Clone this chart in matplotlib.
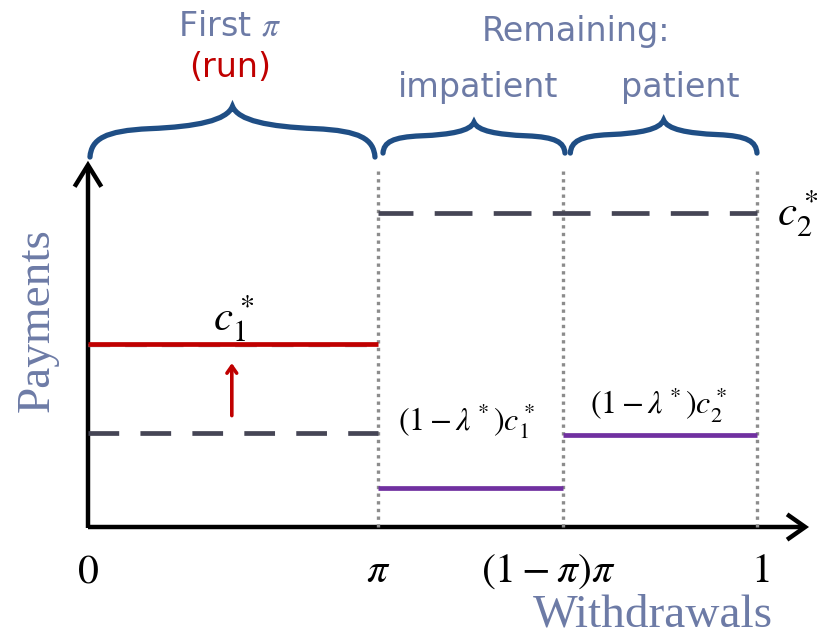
import matplotlib
matplotlib.use("Agg")
import matplotlib.pyplot as plt
from matplotlib.path import Path
from matplotlib.patches import PathPatch

# ---- data (x: share of withdrawals, y: payment level) ----
x_breaks = [0.0, 0.4335, 0.710, 1.0]          # 0, pi, (1-pi)pi, 1
x_tick_labels = ["$0$", r"$\pi$", r"$(1-\pi)\pi$", "$1$"]
c1_star = 0.5055                              # raised payment to first pi
c1_old = 0.26                                 # old payment (dashed)
c2_star = 0.867                               # promised patient payment
c1_cut = 0.108                                # (1-lambda*) c1*
c2_cut = 0.254                                # (1-lambda*) c2*

SLATE = "#6d7ba6"
RED = "#c00000"
PURPLE = "#7030a0"
DASH = "#454555"
BRACE = "#1f4e85"

fig = plt.figure(figsize=(8.21, 6.36), dpi=100)
ax = fig.add_axes([0, 0, 1, 1])
ax.set_xlim(-0.1315, 1.0957)
ax.set_ylim(-0.3011, 1.4558)
ax.axis("off")

# axes with arrows
ax.plot([0, 1.068], [0, 0], color="black", lw=3.2, solid_capstyle="butt")
ax.plot([0, 0], [-0.004, 0.995], color="black", lw=3.2, solid_capstyle="butt")
ax.plot([1.045, 1.072, 1.045], [0.035, 0, -0.035], color="black", lw=3.2,
        solid_joinstyle="miter", solid_capstyle="butt")
ax.plot([-0.02, 0, 0.02], [0.94, 1.0, 0.94], color="black", lw=3.2,
        solid_joinstyle="miter", solid_capstyle="butt")

# dotted separators
for xb in x_breaks[1:]:
    ax.plot([xb, xb], [0, 0.99], color="#8c8c8c", lw=2.4, ls=(0, (1, 1.3)))

# payment levels
ax.plot([0, x_breaks[1]], [c1_star - 0.004, c1_star - 0.004], color="#a0a0aa", lw=2.4,
        ls=(0, (6.5, 4.5)))
ax.plot([0, x_breaks[1]], [c1_star, c1_star], color=RED, lw=3.4, solid_capstyle="butt")
ax.plot([0, x_breaks[1]], [c1_old, c1_old], color=DASH, lw=3.4, ls=(0, (6.5, 4.5)))
ax.plot([x_breaks[1], x_breaks[3]], [c2_star, c2_star], color=DASH, lw=3.4,
        ls=(0.6, (8, 4.5)))
ax.plot([x_breaks[1], x_breaks[2]], [c1_cut, c1_cut], color=PURPLE, lw=3.4,
        solid_capstyle="butt")
ax.plot([x_breaks[2], x_breaks[3]], [c2_cut, c2_cut], color=PURPLE, lw=3.4,
        solid_capstyle="butt")

# red arrow: c1 raised
ax.annotate("", xy=(0.215, c1_star - 0.045), xytext=(0.215, c1_old + 0.04),
            arrowprops=dict(arrowstyle="->,head_length=0.5,head_width=0.35",
                            color=RED, lw=2.6))


def brace(x0, x1, y0, yt):
    xm = (x0 + x1) / 2.0
    half = xm - x0
    h = yt - y0
    left = [(x0 + 0.01 * half, y0 + 0.35 * h), (x0 + 0.1 * half, y0 + 0.52 * h),
            (x0 + 0.42 * half, y0 + 0.56 * h),
            (x0 + 0.75 * half, y0 + 0.6 * h), (x0 + 0.96 * half, y0 + 0.72 * h),
            (xm, yt)]
    right = [(2 * xm - px, py) for px, py in left[:-1]][::-1] + [(x1, y0)]
    verts = [(x0, y0)] + left + right
    codes = [Path.MOVETO] + [Path.CURVE4] * 12
    ax.add_patch(PathPatch(Path(verts, codes), fill=False, edgecolor=BRACE,
                           lw=3.8, capstyle="round", joinstyle="miter"))


brace(0.003, 0.429, 1.022, 1.162)
brace(0.441, 0.713, 1.033, 1.118)
brace(0.721, 1.0, 1.033, 1.124)

# top labels
ax.text(0.212, 1.385, r"First $\pi$", color=SLATE, fontsize=24, ha="center", va="center",
        math_fontfamily="stix")
ax.text(0.212, 1.27, "(run)", color=RED, fontsize=24, ha="center", va="center")
ax.text(0.73, 1.37, "Remaining:", color=SLATE, fontsize=24, ha="center", va="center")
ax.text(0.583, 1.215, "impatient", color=SLATE, fontsize=24, ha="center", va="center")
ax.text(0.885, 1.215, "patient", color=SLATE, fontsize=24, ha="center", va="center")

# level labels
ax.text(0.217, c1_star + 0.07, r"$c_1^*$", fontsize=31, ha="center", va="center",
        math_fontfamily="stix")
ax.text(1.06, c2_star, r"$c_2^*$", fontsize=31, ha="center", va="center",
        math_fontfamily="stix")
ax.text(0.565, c1_cut + 0.185, r"$(1-\lambda^*)c_1^*$", fontsize=23, ha="center",
        va="center", math_fontfamily="stix")
ax.text(0.852, c2_cut + 0.085, r"$(1-\lambda^*)c_2^*$", fontsize=23, ha="center",
        va="center", math_fontfamily="stix")

# tick labels
tick_x = [0.0, 0.4335, 0.688, 1.005]
for tx, lab in zip(tick_x, x_tick_labels):
    ax.text(tx, -0.12, lab, fontsize=30, ha="center", va="center", math_fontfamily="stix")

# axis titles
ax.text(-0.076, 0.572, "Payments", color=SLATE, fontsize=34, rotation=90,
        ha="center", va="center", family="Liberation Serif")
ax.text(0.845, -0.245, "Withdrawals", color=SLATE, fontsize=34,
        ha="center", va="center", family="Liberation Serif")

fig.savefig("out.png", dpi=100)
